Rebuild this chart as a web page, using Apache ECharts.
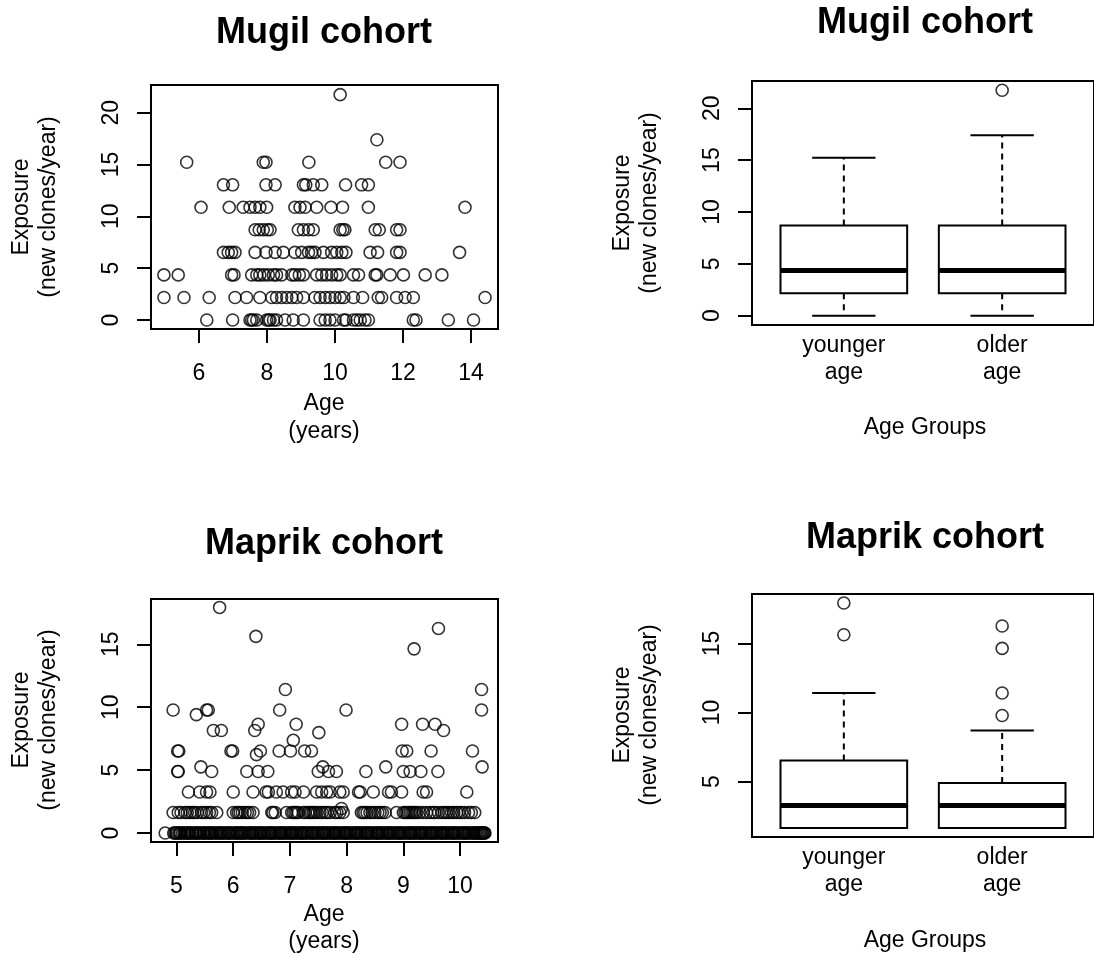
<!DOCTYPE html>
<html>
<head>
<meta charset="utf-8">
<script src="https://cdn.jsdelivr.net/npm/echarts@6/dist/echarts.min.js"></script>
<style>
html,body{margin:0;padding:0;background:#fff;}
#chart{width:1094px;height:958px;}
</style>
</head>
<body>
<div id="chart"></div>
<script>
// ---------------- DATA ----------------
const mugilExposureLevels = [0, 2.17, 4.35, 6.52, 8.70, 10.87, 13.04, 15.22, 17.39, 21.74];
const mugilAgesAtLevel = [
  [6.23, 6.99, 7.50, 7.55, 7.60, 7.70, 7.99, 8.05, 8.09, 8.19, 8.28, 8.53, 8.77, 9.07, 9.56, 9.71, 9.85, 10.00, 10.25, 10.32, 10.54, 10.64, 10.74, 10.88, 10.98, 12.30, 12.38, 13.33, 14.07],
  [4.97, 5.56, 6.30, 7.06, 7.40, 7.79, 8.14, 8.28, 8.43, 8.58, 8.73, 8.87, 9.07, 9.41, 9.56, 9.71, 9.85, 10.00, 10.15, 10.26, 10.54, 10.81, 11.27, 11.37, 11.81, 12.06, 12.30, 14.41],
  [4.97, 5.39, 6.96, 7.03, 7.55, 7.70, 7.79, 7.91, 8.04, 8.19, 8.28, 8.43, 8.73, 8.82, 8.95, 9.07, 9.46, 9.61, 9.75, 9.90, 10.05, 10.15, 10.54, 10.69, 11.18, 11.23, 11.62, 12.01, 12.65, 13.14],
  [6.72, 6.86, 6.96, 7.06, 7.65, 7.97, 8.24, 8.48, 8.82, 9.02, 9.22, 9.31, 9.41, 9.66, 9.90, 10.05, 10.20, 10.32, 11.03, 11.25, 11.81, 11.91, 13.66],
  [7.65, 7.77, 7.89, 8.01, 8.09, 8.92, 9.07, 9.22, 9.36, 10.15, 10.23, 10.29, 11.18, 11.30, 11.81, 11.91],
  [6.06, 6.89, 7.30, 7.50, 7.65, 7.79, 7.99, 8.82, 8.97, 9.12, 9.46, 9.88, 10.22, 10.98, 13.82],
  [6.72, 6.99, 7.97, 8.24, 9.07, 9.14, 9.36, 9.61, 10.31, 10.78, 10.98],
  [5.64, 7.89, 7.97, 9.23, 11.49, 11.91],
  [11.23],
  [10.15]
];

const maprikExposureLevels = [0, 1.63, 1.95, 3.26, 4.89, 5.26, 6.23, 6.52, 7.37, 7.98, 8.15, 8.65, 9.41, 9.78, 11.41, 14.64, 15.63, 16.26, 17.93];
const maprikAgesAtLevel = [
  [4.80, 4.95, 4.97, 4.99, 5.01, 5.04, 5.06, 5.07, 5.10, 5.13, 5.15, 5.18, 5.20, 5.22, 5.24, 5.27, 5.29, 5.33, 5.34, 5.36, 5.38, 5.41, 5.43, 5.47, 5.48, 5.50, 5.53, 5.56, 5.58, 5.60, 5.62, 5.64, 5.67, 5.70, 5.72, 5.75, 5.77, 5.79, 5.81, 5.84, 5.86, 5.90, 5.91, 5.93, 5.95, 5.98, 6.01, 6.04, 6.06, 6.08, 6.10, 6.13, 6.15, 6.17, 6.19, 6.22, 6.25, 6.28, 6.30, 6.32, 6.34, 6.36, 6.39, 6.41, 6.44, 6.47, 6.48, 6.50, 6.53, 6.55, 6.58, 6.61, 6.63, 6.65, 6.67, 6.69, 6.72, 6.74, 6.77, 6.80, 6.82, 6.84, 6.86, 6.88, 6.91, 6.93, 6.96, 6.99, 7.01, 7.03, 7.05, 7.07, 7.10, 7.12, 7.15, 7.18, 7.20, 7.21, 7.24, 7.26, 7.29, 7.31, 7.34, 7.37, 7.39, 7.40, 7.43, 7.45, 7.48, 7.50, 7.53, 7.56, 7.58, 7.60, 7.62, 7.64, 7.67, 7.69, 7.72, 7.75, 7.77, 7.79, 7.81, 7.83, 7.86, 7.88, 7.91, 7.94, 7.96, 7.98, 8.00, 8.02, 8.05, 8.07, 8.10, 8.13, 8.15, 8.17, 8.19, 8.21, 8.24, 8.26, 8.29, 8.32, 8.34, 8.36, 8.38, 8.40, 8.43, 8.45, 8.48, 8.51, 8.53, 8.55, 8.57, 8.59, 8.62, 8.64, 8.67, 8.70, 8.72, 8.74, 8.76, 8.78, 8.81, 8.83, 8.86, 8.89, 8.91, 8.93, 8.95, 8.97, 9.00, 9.02, 9.05, 9.08, 9.10, 9.12, 9.14, 9.16, 9.19, 9.21, 9.24, 9.27, 9.29, 9.31, 9.33, 9.35, 9.38, 9.40, 9.43, 9.46, 9.48, 9.50, 9.52, 9.54, 9.57, 9.59, 9.62, 9.65, 9.67, 9.69, 9.71, 9.73, 9.76, 9.78, 9.81, 9.84, 9.86, 9.88, 9.90, 9.92, 9.95, 9.97, 10.00, 10.03, 10.05, 10.07, 10.09, 10.11, 10.14, 10.16, 10.19, 10.22, 10.24, 10.26, 10.28, 10.30, 10.32, 10.34, 10.36, 10.37, 10.39, 10.40, 10.42, 10.43, 10.44],
  [4.94, 5.03, 5.08, 5.15, 5.19, 5.24, 5.28, 5.32, 5.37, 5.44, 5.48, 5.53, 5.58, 5.62, 5.71, 6.00, 6.06, 6.09, 6.12, 6.16, 6.21, 6.25, 6.29, 6.35, 6.68, 6.70, 6.74, 6.94, 7.03, 7.06, 7.09, 7.12, 7.15, 7.24, 7.27, 7.32, 7.35, 7.38, 7.41, 7.44, 7.48, 7.53, 7.57, 7.62, 7.66, 7.71, 7.79, 7.83, 7.88, 7.94, 8.26, 8.29, 8.32, 8.36, 8.41, 8.45, 8.50, 8.55, 8.59, 8.63, 8.68, 8.88, 9.00, 9.03, 9.06, 9.09, 9.12, 9.15, 9.18, 9.21, 9.24, 9.29, 9.35, 9.41, 9.47, 9.52, 9.56, 9.62, 9.68, 9.72, 9.76, 9.80, 9.85, 9.89, 9.94, 9.98, 10.03, 10.08, 10.15, 10.20, 10.26],
  [7.91],
  [5.21, 5.41, 5.53, 5.59, 6.00, 6.35, 6.58, 6.62, 6.76, 6.88, 7.03, 7.09, 7.24, 7.47, 7.56, 7.65, 7.71, 7.88, 7.94, 8.21, 8.24, 8.47, 8.74, 8.79, 8.97, 9.35, 9.41, 10.12],
  [5.02, 5.03, 5.62, 6.24, 6.44, 6.61, 7.50, 7.68, 7.82, 8.34, 9.00, 9.12, 9.31, 9.61],
  [5.43, 7.58, 8.69, 10.39],
  [6.41],
  [5.02, 5.04, 5.96, 5.99, 6.48, 6.81, 7.01, 7.26, 7.38, 8.98, 9.06, 9.49, 10.22],
  [7.06],
  [7.51],
  [5.65, 5.79, 6.38, 9.71],
  [6.44, 7.11, 8.97, 9.34, 9.56],
  [5.35],
  [4.94, 5.53, 5.56, 6.82, 7.99, 10.38],
  [6.92, 10.38],
  [9.19],
  [6.40],
  [9.62],
  [5.76]
];

const ageGroups = ['younger\nage', 'older\nage'];
// [lower whisker, Q1, median, Q3, upper whisker]
const mugilBoxStats = [
  [0, 2.17, 4.35, 8.70, 15.22],
  [0, 2.17, 4.35, 8.70, 17.39]
];
const mugilOutliers = [[], [21.74]];
const maprikBoxStats = [
  [1.63, 1.63, 3.26, 6.52, 11.41],
  [1.63, 1.63, 3.26, 4.89, 8.70]
];
const maprikOutliers = [[15.63, 17.93], [9.78, 11.41, 14.64, 16.26]];

const mugilAgeTicks = [6, 8, 10, 12, 14];
const maprikAgeTicks = [5, 6, 7, 8, 9, 10];
const mugilExpTicks = [0, 5, 10, 15, 20];
const maprikExpTicks = [0, 5, 10, 15];
const maprikBoxExpTicks = [5, 10, 15];
const groupPositions = [1, 2];

// ---------------- BUILD ----------------
function toPoints(levels, agesAt) {
  const out = [];
  agesAt.forEach((ages, i) => ages.forEach(a => out.push([a, levels[i]])));
  return out;
}
function boxData(stats) {
  return stats.map((s, i) => [groupPositions[i]].concat(s));
}
function outlierData(outs) {
  const out = [];
  outs.forEach((vals, i) => vals.forEach(v => out.push([groupPositions[i], v])));
  return out;
}

const FONT = 'Liberation Sans, Arial, sans-serif';
const LBL = 23;

function renderBox(params, api) {
  const x = api.value(0);
  const lo = api.value(1), q1 = api.value(2), med = api.value(3), q3 = api.value(4), hi = api.value(5);
  const half = 0.4, cap = 0.2;
  const tl = api.coord([x - half, q3]);
  const br = api.coord([x + half, q1]);
  const mL = api.coord([x - half, med]);
  const mR = api.coord([x + half, med]);
  const c = api.coord([x, hi]);
  const cq3 = api.coord([x, q3]);
  const cq1 = api.coord([x, q1]);
  const cl = api.coord([x, lo]);
  const capL = api.coord([x - cap, hi])[0];
  const capR = api.coord([x + cap, hi])[0];
  const stroke = '#000';
  const children = [
    {type: 'line', shape: {x1: c[0], y1: cq3[1], x2: c[0], y2: c[1]}, style: {stroke, lineWidth: 2, lineDash: [6, 5]}},
    {type: 'line', shape: {x1: capL, y1: c[1], x2: capR, y2: c[1]}, style: {stroke, lineWidth: 2}},
    {type: 'rect', shape: {x: tl[0], y: tl[1], width: br[0] - tl[0], height: br[1] - tl[1]}, style: {fill: '#fff', stroke, lineWidth: 2}},
    {type: 'line', shape: {x1: mL[0], y1: mL[1], x2: mR[0], y2: mR[1]}, style: {stroke, lineWidth: 5}}
  ];
  if (lo < q1) {
    children.push({type: 'line', shape: {x1: c[0], y1: cq1[1], x2: c[0], y2: cl[1]}, style: {stroke, lineWidth: 2, lineDash: [6, 5]}});
    children.push({type: 'line', shape: {x1: capL, y1: cl[1], x2: capR, y2: cl[1]}, style: {stroke, lineWidth: 2}});
  }
  return {type: 'group', children};
}

function lbl(ticks, extra) {
  return Object.assign({customValues: ticks, color: '#000', fontSize: LBL, fontFamily: FONT}, extra || {});
}
function valAxis(gi, min, max, ticks, label, showTicks) {
  return {
    type: 'value', gridIndex: gi, min, max,
    splitLine: {show: false},
    axisLine: {show: false, onZero: false},
    axisTick: {show: showTicks !== false, length: 14, lineStyle: {color: '#000', width: 2}, customValues: ticks},
    axisLabel: label
  };
}

const circleStyle = {color: 'rgba(0,0,0,0)', borderColor: '#000', borderWidth: 1.6};
const catFmt = v => ageGroups[Math.round(v) - 1];

const option = {
  animation: false,
  backgroundColor: '#fff',
  grid: [
    {left: 151, top: 85, width: 347, height: 244, show: true, borderColor: '#000', borderWidth: 2, backgroundColor: 'transparent'},
    {left: 752, top: 81, width: 346, height: 244, show: true, borderColor: '#000', borderWidth: 2, backgroundColor: 'transparent'},
    {left: 151, top: 599, width: 347, height: 243, show: true, borderColor: '#000', borderWidth: 2, backgroundColor: 'transparent'},
    {left: 752, top: 594, width: 346, height: 243, show: true, borderColor: '#000', borderWidth: 2, backgroundColor: 'transparent'}
  ],
  xAxis: [
    valAxis(0, 4.59, 14.79, mugilAgeTicks, lbl(mugilAgeTicks, {margin: 33})),
    valAxis(1, 0.42, 2.58, groupPositions, lbl(groupPositions, {margin: 7, lineHeight: 27, formatter: catFmt}), false),
    valAxis(2, 4.55, 10.67, maprikAgeTicks, lbl(maprikAgeTicks, {margin: 33})),
    valAxis(3, 0.42, 2.58, groupPositions, lbl(groupPositions, {margin: 7, lineHeight: 27, formatter: catFmt}), false)
  ],
  yAxis: [
    valAxis(0, -0.87, 22.67, mugilExpTicks, lbl(mugilExpTicks, {rotate: 90, margin: 28})),
    valAxis(1, -0.90, 22.63, mugilExpTicks, lbl(mugilExpTicks, {rotate: 90, margin: 28})),
    valAxis(2, -0.71, 18.6, maprikExpTicks, lbl(maprikExpTicks, {rotate: 90, margin: 28})),
    valAxis(3, 0.98, 18.58, maprikBoxExpTicks, lbl(maprikBoxExpTicks, {rotate: 90, margin: 28}))
  ],
  series: [
    {type: 'scatter', xAxisIndex: 0, yAxisIndex: 0, symbol: 'circle', symbolSize: 12, itemStyle: circleStyle, data: toPoints(mugilExposureLevels, mugilAgesAtLevel)},
    {type: 'custom', xAxisIndex: 1, yAxisIndex: 1, renderItem: renderBox, data: boxData(mugilBoxStats)},
    {type: 'scatter', xAxisIndex: 1, yAxisIndex: 1, symbol: 'circle', symbolSize: 12, itemStyle: circleStyle, data: outlierData(mugilOutliers)},
    {type: 'scatter', xAxisIndex: 2, yAxisIndex: 2, symbol: 'circle', symbolSize: 12, itemStyle: circleStyle, data: toPoints(maprikExposureLevels, maprikAgesAtLevel)},
    {type: 'custom', xAxisIndex: 3, yAxisIndex: 3, renderItem: renderBox, data: boxData(maprikBoxStats)},
    {type: 'scatter', xAxisIndex: 3, yAxisIndex: 3, symbol: 'circle', symbolSize: 12, itemStyle: circleStyle, data: outlierData(maprikOutliers)}
  ],
  graphic: []
};

function txt(text, x, y, size, bold, rot) {
  return {type: 'text', x, y, rotation: rot ? Math.PI / 2 : 0,
    style: {text, fill: '#000', font: (bold ? 'bold ' : '') + size + 'px ' + FONT, textAlign: 'center', textVerticalAlign: 'middle'}};
}
option.graphic = [
  txt('Mugil cohort', 324, 33, 36, true),
  txt('Mugil cohort', 925, 23, 36, true),
  txt('Maprik cohort', 324, 544, 36, true),
  txt('Maprik cohort', 925, 538, 36, true),
  txt('Exposure', 22, 207, LBL, false, true),
  txt('(new clones/year)', 49, 207, LBL, false, true),
  txt('Exposure', 623, 203, LBL, false, true),
  txt('(new clones/year)', 650, 203, LBL, false, true),
  txt('Exposure', 22, 720, LBL, false, true),
  txt('(new clones/year)', 49, 720, LBL, false, true),
  txt('Exposure', 623, 715, LBL, false, true),
  txt('(new clones/year)', 650, 715, LBL, false, true),
  txt('Age', 324, 404, LBL, false),
  txt('(years)', 324, 432, LBL, false),
  txt('Age', 324, 915, LBL, false),
  txt('(years)', 324, 942, LBL, false),
  txt('Age Groups', 925, 428, LBL, false),
  txt('Age Groups', 925, 941, LBL, false)
];

const chart = echarts.init(document.getElementById('chart'), null, {renderer: 'canvas'});
chart.setOption(option);
</script>
</body>
</html>
